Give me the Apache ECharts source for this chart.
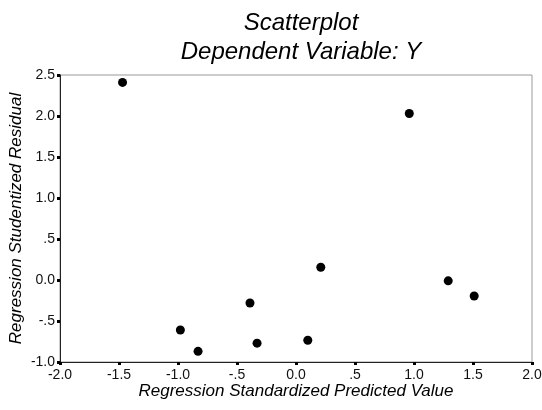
<!DOCTYPE html>
<html>
<head>
<meta charset="utf-8">
<script src="https://cdn.jsdelivr.net/npm/echarts@6/dist/echarts.min.js"></script>
<style>
  html, body { margin: 0; padding: 0; background: #fff; }
  #chart { width: 542px; height: 410px; }
</style>
</head>
<body>
<div id="chart"></div>
<script>
// predicted value (x) and studentized residual (y)
const predicted = [-1.47, 0.96, -0.98, -0.83, -0.39, -0.33, 0.10, 0.21, 1.29, 1.51];
const residual = [2.41, 2.03, -0.61, -0.87, -0.28, -0.77, -0.735, 0.155, -0.01, -0.195];

const xTicks = [-2.0, -1.5, -1.0, -0.5, 0.0, 0.5, 1.0, 1.5, 2.0];
const xTickLabels = ['-2.0', '-1.5', '-1.0', '-.5', '0.0', '.5', '1.0', '1.5', '2.0'];
const yTicks = [-1.0, -0.5, 0.0, 0.5, 1.0, 1.5, 2.0, 2.5];
const yTickLabels = ['-1.0', '-.5', '0.0', '.5', '1.0', '1.5', '2.0', '2.5'];

const fontFam = 'Liberation Sans, Arial, sans-serif';

const tickLabel = (ticks, labels) => (v) => {
    const i = ticks.findIndex(t => Math.abs(t - v) < 1e-6);
    return i >= 0 ? labels[i] : '';
};

const myChart = echarts.init(document.getElementById('chart'));
const option = {
    animation: false,
    title: [{
        text: 'Scatterplot',
        left: 296, top: 6, textAlign: 'center',
        textStyle: { fontFamily: fontFam, fontStyle: 'italic', fontWeight: 'normal', fontSize: 24, color: '#000' }
    }, {
        text: 'Dependent Variable: Y',
        left: 296, top: 35, textAlign: 'center',
        textStyle: { fontFamily: fontFam, fontStyle: 'italic', fontWeight: 'normal', fontSize: 24, color: '#000' }
    }],
    grid: {
        show: true,
        left: 60, right: 10, top: 75, bottom: 48,
        outerBoundsMode: 'none',
        containLabel: false,
        borderColor: '#999', borderWidth: 1
    },
    xAxis: {
        type: 'value',
        min: -2, max: 2, interval: 0.5,
        name: 'Regression Standardized Predicted Value',
        nameLocation: 'middle', nameGap: 21,
        nameMoveOverlap: false,
        nameTextStyle: { fontFamily: fontFam, fontStyle: 'italic', fontSize: 17, color: '#000' },
        axisLine: { onZero: false, lineStyle: { color: '#222', width: 1 } },
        axisTick: { show: true, length: 3, inside: false, lineStyle: { color: '#000', width: 3 } },
        splitLine: { show: false },
        axisLabel: {
            fontFamily: fontFam, fontSize: 14, color: '#111', margin: 6,
            formatter: tickLabel(xTicks, xTickLabels)
        }
    },
    yAxis: {
        type: 'value',
        min: -1, max: 2.5, interval: 0.5,
        name: 'Regression Studentized Residual',
        nameLocation: 'middle', nameGap: 35,
        nameMoveOverlap: false,
        nameTextStyle: { fontFamily: fontFam, fontStyle: 'italic', fontSize: 17, color: '#000' },
        axisLine: { show: true, onZero: false, lineStyle: { color: '#222', width: 1 } },
        axisTick: { show: true, length: 3, inside: false, lineStyle: { color: '#000', width: 3 } },
        splitLine: { show: false },
        axisLabel: {
            fontFamily: fontFam, fontSize: 14, color: '#111', margin: 5,
            formatter: tickLabel(yTicks, yTickLabels)
        }
    },
    series: [{
        type: 'scatter',
        symbol: 'circle',
        symbolSize: 9,
        itemStyle: { color: '#000', opacity: 1 },
        data: predicted.map((x, i) => [x, residual[i]])
    }]
};
myChart.setOption(option);
</script>
</body>
</html>
